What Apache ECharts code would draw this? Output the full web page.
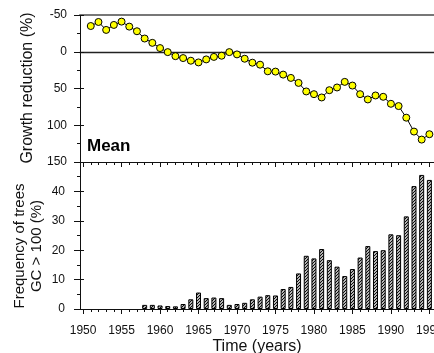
<!DOCTYPE html>
<html>
<head>
<meta charset="utf-8">
<script src="https://cdn.jsdelivr.net/npm/echarts@6/dist/echarts.min.js"></script>
<style>
  html, body { margin: 0; padding: 0; background: #fff; }
  #chart { width: 434px; height: 353px; }
</style>
</head>
<body>
<div id="chart"></div>
<script>
// Mean growth reduction per year (%), plotted on an inverted axis
var growthYears = [1951, 1952, 1953, 1954, 1955, 1956, 1957, 1958, 1959, 1960,
                   1961, 1962, 1963, 1964, 1965, 1966, 1967, 1968, 1969, 1970,
                   1971, 1972, 1973, 1974, 1975, 1976, 1977, 1978, 1979, 1980,
                   1981, 1982, 1983, 1984, 1985, 1986, 1987, 1988, 1989, 1990,
                   1991, 1992, 1993, 1994, 1995];
var growthReduction = [-35, -40.5, -29.7, -36.5, -41, -34.2, -27.9, -18, -12.1, -5,
                       0.5, 6, 8.6, 12.2, 14.5, 10.4, 7, 5.4, 0.5, 3.6,
                       9.5, 14.9, 17.6, 26.6, 27, 31.1, 35.6, 42.4, 54, 57.7,
                       62.2, 52.3, 48.6, 41, 46, 57.7, 64.9, 59.5, 61.3, 70.8,
                       73.9, 89.7, 108.6, 119.5, 112.2];

// Share of trees with GC > 100 (%)
var freqYears = [1958, 1959, 1960, 1961, 1962, 1963, 1964, 1965, 1966, 1967,
                 1968, 1969, 1970, 1971, 1972, 1973, 1974, 1975, 1976, 1977,
                 1978, 1979, 1980, 1981, 1982, 1983, 1984, 1985, 1986, 1987,
                 1988, 1989, 1990, 1991, 1992, 1993, 1994, 1995];
var freqValues = [1.4, 1.4, 1.2, 1.0, 0.9, 1.7, 3.3, 5.6, 3.7, 3.9,
                  3.7, 1.4, 1.7, 2.1, 3.3, 4.2, 4.7, 4.6, 6.8, 7.5,
                  12.1, 18.1, 17.2, 20.4, 16.6, 14.4, 11.2, 13.6, 17.5, 21.4,
                  19.7, 20, 25.4, 25.1, 31.5, 41.8, 45.6, 43.9];

// Tick positions on the time axis
var yearTicks = [1950, 1951, 1952, 1953, 1954, 1955, 1956, 1957, 1958, 1959,
                 1960, 1961, 1962, 1963, 1964, 1965, 1966, 1967, 1968, 1969,
                 1970, 1971, 1972, 1973, 1974, 1975, 1976, 1977, 1978, 1979,
                 1980, 1981, 1982, 1983, 1984, 1985, 1986, 1987, 1988, 1989,
                 1990, 1991, 1992, 1993, 1994, 1995];
var yearLabels = [1950, 1955, 1960, 1965, 1970, 1975, 1980, 1985, 1990, 1995];

var FONT = "'Liberation Sans', Arial, Helvetica, sans-serif";
var INK = '#111';
var X_MIN = 1949.6, X_MAX = 1995.6;

// Diagonal hatch tile for the bars
function makeHatch() {
  var c = document.createElement('canvas');
  c.width = 3; c.height = 3;
  var g = c.getContext('2d');
  g.fillStyle = '#fff';
  g.fillRect(0, 0, 3, 3);
  g.strokeStyle = '#000';
  g.lineWidth = 1.1;
  g.beginPath();
  g.moveTo(-1, 4); g.lineTo(4, -1);
  g.moveTo(-1, 1); g.lineTo(1, -1);
  g.moveTo(2, 4); g.lineTo(4, 2);
  g.stroke();
  return c;
}

function pairs(xs, ys) {
  return xs.map(function (x, i) { return [x, ys[i]]; });
}

// Time axis: minor ticks each year, longer ticks every 5 years
function timeAxis(gridIndex, major, withLabels) {
  return {
    type: 'value',
    gridIndex: gridIndex,
    position: 'bottom',
    min: X_MIN,
    max: X_MAX,
    axisLine: { show: !major, onZero: false, lineStyle: { color: INK, width: 1 } },
    axisTick: {
      show: true,
      customValues: major ? yearLabels : yearTicks,
      length: major ? 5 : 3,
      lineStyle: { color: INK, width: 1 }
    },
    axisLabel: withLabels ? {
      show: true,
      customValues: yearLabels,
      margin: 16,
      fontSize: 12,
      fontFamily: FONT,
      color: INK,
      hideOverlap: false,
      formatter: function (v) { return String(v); }
    } : { show: false },
    splitLine: { show: false },
    name: withLabels ? 'Time (years)' : '',
    nameLocation: 'middle',
    nameGap: 30,
    nameTextStyle: { fontSize: 16, fontFamily: FONT, color: INK }
  };
}

// Bare horizontal rule drawn as an axis line
function ruleAxis(position, onZero, color, width) {
  return {
    type: 'value', gridIndex: 0, position: position,
    min: X_MIN, max: X_MAX,
    axisLine: { show: true, onZero: onZero, onZeroAxisIndex: 0, lineStyle: { color: color, width: width } },
    axisTick: { show: false },
    axisLabel: { show: false },
    splitLine: { show: false }
  };
}

var chart = echarts.init(document.getElementById('chart'), null, { renderer: 'canvas' });

chart.setOption({
  animation: false,
  backgroundColor: '#fff',
  grid: [
    { left: 80, right: 0, top: 15, height: 147, containLabel: false, outerBoundsMode: 'none' },
    { left: 80, right: 0, top: 162, height: 147, containLabel: false, outerBoundsMode: 'none' }
  ],
  xAxis: [
    timeAxis(0, false, false),
    timeAxis(0, true, false),
    timeAxis(1, false, false),
    timeAxis(1, true, true),
    ruleAxis('top', false, '#777', 2),
    ruleAxis('bottom', true, '#222', 1.3)
  ],
  yAxis: [
    {
      type: 'value', gridIndex: 0, position: 'left', inverse: true,
      min: -50, max: 150, interval: 50,
      axisLine: { show: true, onZero: false, lineStyle: { color: INK, width: 1 } },
      axisTick: { show: true, length: 6, lineStyle: { color: INK } },
      minorTick: { show: true, splitNumber: 2, length: 3, lineStyle: { color: INK } },
      axisLabel: { margin: 13, fontSize: 12, fontFamily: FONT, color: INK },
      splitLine: { show: false }
    },
    {
      type: 'value', gridIndex: 0, position: 'left', inverse: true,
      min: -50, max: 150, interval: 50,
      axisLine: { show: false, onZero: false },
      axisTick: { show: true, inside: true, length: 4, lineStyle: { color: INK } },
      axisLabel: { show: false },
      splitLine: { show: false }
    },
    {
      type: 'value', gridIndex: 1, position: 'left',
      min: 0, max: 50, interval: 10,
      axisLine: { show: true, onZero: false, lineStyle: { color: INK, width: 1 } },
      axisTick: { show: true, length: 6, lineStyle: { color: INK } },
      minorTick: { show: true, splitNumber: 2, length: 3, lineStyle: { color: INK } },
      axisLabel: {
        margin: 15, fontSize: 12, fontFamily: FONT, color: INK,
        formatter: function (v) { return v === 50 ? '' : String(v); }
      },
      splitLine: { show: false }
    },
    {
      type: 'value', gridIndex: 1, position: 'left',
      min: 0, max: 50, interval: 10,
      axisLine: { show: false, onZero: false },
      axisTick: { show: true, inside: true, length: 4, lineStyle: { color: INK } },
      axisLabel: { show: false },
      splitLine: { show: false }
    }
  ],
  graphic: [
    {
      type: 'text', x: 28, y: 88, rotation: Math.PI / 2,
      style: {
        text: 'Growth reduction (%)', font: '16px ' + FONT, fill: INK,
        align: 'center', verticalAlign: 'middle'
      }
    },
    {
      type: 'text', x: 28, y: 246, rotation: Math.PI / 2,
      style: {
        text: 'Frequency of trees\nGC > 100 (%)', font: '15px ' + FONT, fill: INK,
        lineHeight: 17, align: 'center', verticalAlign: 'middle'
      }
    },
    {
      type: 'text', x: 87, y: 146,
      style: {
        text: 'Mean', font: 'bold 17px ' + FONT, fill: '#000',
        align: 'left', verticalAlign: 'middle'
      }
    }
  ],
  series: [
    {
      type: 'line',
      xAxisIndex: 0, yAxisIndex: 0,
      data: pairs(growthYears, growthReduction),
      symbol: 'circle',
      symbolSize: 7,
      lineStyle: { color: '#000', width: 1 },
      itemStyle: { color: '#ffff00', borderColor: '#000', borderWidth: 1 },
      z: 5
    },
    {
      type: 'bar',
      xAxisIndex: 3, yAxisIndex: 2,
      data: pairs(freqYears, freqValues),
      barWidth: 5,
      itemStyle: {
        color: { image: makeHatch(), repeat: 'repeat' },
        borderColor: '#000',
        borderWidth: 1
      }
    }
  ]
});
</script>
</body>
</html>
